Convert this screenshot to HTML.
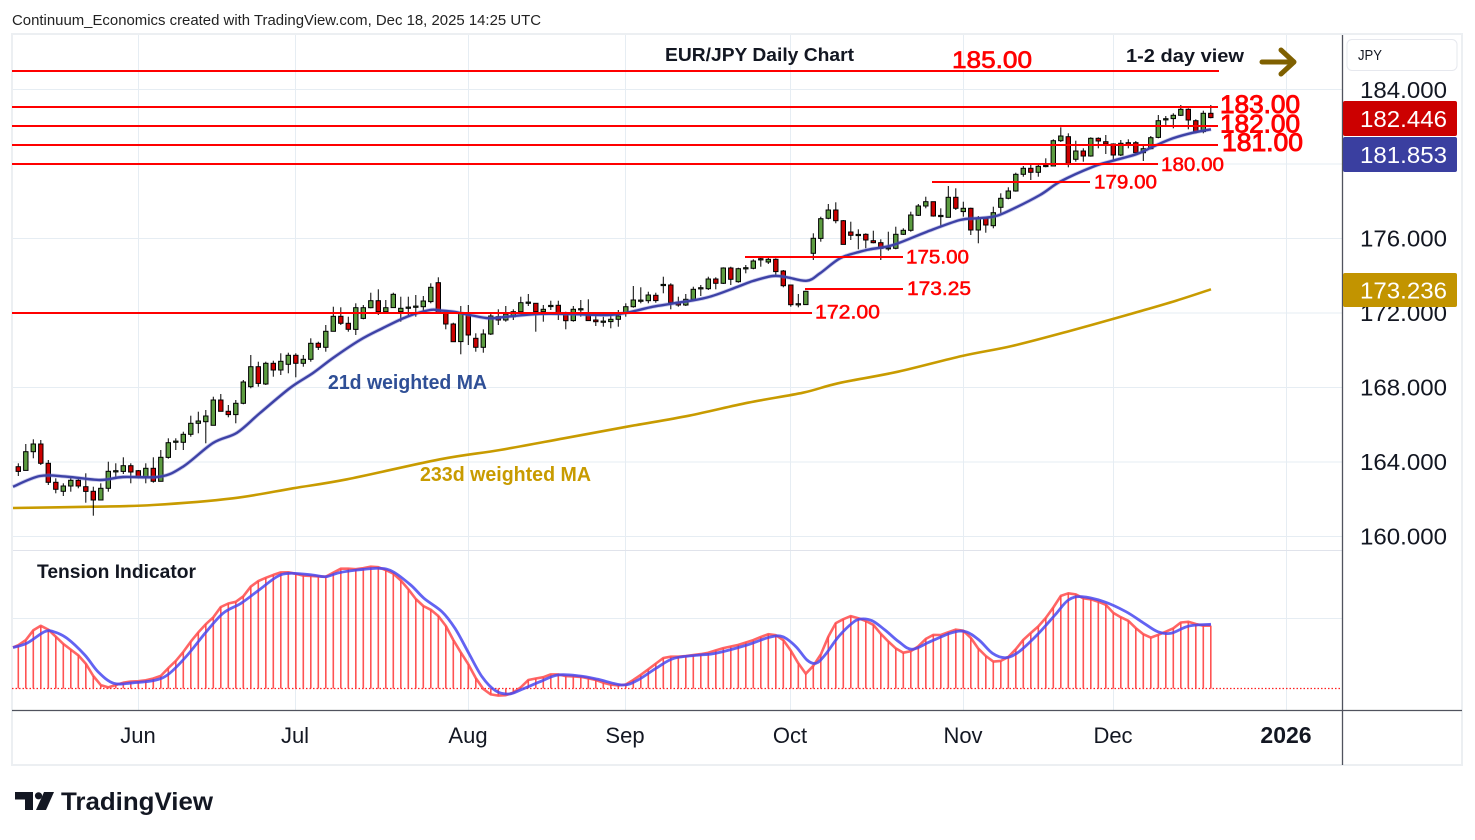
<!DOCTYPE html>
<html><head><meta charset="utf-8">
<style>
html,body{margin:0;padding:0;background:#fff;width:1475px;height:840px;overflow:hidden}
svg{display:block}
text{font-family:"Liberation Sans","DejaVu Sans",sans-serif}
</style></head><body>
<svg id="s" width="1475" height="840" viewBox="0 0 1475 840" xmlns="http://www.w3.org/2000/svg">
<rect x="0" y="0" width="1475" height="840" fill="#fff"/>
<!-- header -->
<text x="12" y="25" font-size="15" fill="#222" textLength="529" lengthAdjust="spacingAndGlyphs">Continuum_Economics created with TradingView.com, Dec 18, 2025 14:25 UTC</text>
<!-- grid -->
<g stroke="#e6edf3" stroke-width="1">
 <line x1="12" y1="89.5" x2="1342" y2="89.5"/>
 <line x1="12" y1="164" x2="1342" y2="164"/>
 <line x1="12" y1="238.5" x2="1342" y2="238.5"/>
 <line x1="12" y1="313" x2="1342" y2="313"/>
 <line x1="12" y1="387.5" x2="1342" y2="387.5"/>
 <line x1="12" y1="462" x2="1342" y2="462"/>
 <line x1="12" y1="536.5" x2="1342" y2="536.5"/>
 <line x1="12" y1="618.5" x2="1342" y2="618.5"/>
 <line x1="138.5" y1="35" x2="138.5" y2="710"/>
 <line x1="295.5" y1="35" x2="295.5" y2="710"/>
 <line x1="468.5" y1="35" x2="468.5" y2="710"/>
 <line x1="625.5" y1="35" x2="625.5" y2="710"/>
 <line x1="790.5" y1="35" x2="790.5" y2="710"/>
 <line x1="963.5" y1="35" x2="963.5" y2="710"/>
 <line x1="1113.5" y1="35" x2="1113.5" y2="710"/>
 <line x1="1286.5" y1="35" x2="1286.5" y2="710"/>
</g>
<line x1="12" y1="550.5" x2="1342" y2="550.5" stroke="#e0e3eb" stroke-width="1"/>
<!-- frame -->
<rect x="12" y="34" width="1450" height="731" fill="none" stroke="#eceff2" stroke-width="2"/>
<g id="ma233"></g>
<g id="ind"></g>
<g id="candles"></g>
<g id="ma21"></g>
<!-- level lines -->
<g stroke="#ff0000" stroke-width="2">
 <line x1="12" y1="71" x2="1219" y2="71"/>
 <line x1="12" y1="107" x2="1218" y2="107"/>
 <line x1="12" y1="126" x2="1218" y2="126"/>
 <line x1="12" y1="145" x2="1218" y2="145"/>
 <line x1="12" y1="164" x2="1158" y2="164"/>
 <line x1="932" y1="182" x2="1090" y2="182"/>
 <line x1="745" y1="257" x2="903" y2="257"/>
 <line x1="805" y1="289" x2="903" y2="289"/>
 <line x1="12" y1="313" x2="812" y2="313"/>
</g>
<g fill="#ff0000" stroke="#ff0000">
 <text x="952" y="68" font-size="24" stroke-width="0.7" textLength="80" lengthAdjust="spacingAndGlyphs">185.00</text>
 <text x="1220" y="113" font-size="25" stroke-width="0.9" textLength="80" lengthAdjust="spacingAndGlyphs">183.00</text>
 <text x="1220" y="132.5" font-size="25" stroke-width="0.9" textLength="80" lengthAdjust="spacingAndGlyphs">182.00</text>
 <text x="1222" y="151" font-size="25" stroke-width="0.9" textLength="81" lengthAdjust="spacingAndGlyphs">181.00</text>
 <text x="1161" y="171" font-size="19" stroke-width="0.5" textLength="63" lengthAdjust="spacingAndGlyphs">180.00</text>
 <text x="1094" y="188.5" font-size="19" stroke-width="0.5" textLength="63" lengthAdjust="spacingAndGlyphs">179.00</text>
 <text x="906" y="263.5" font-size="19" stroke-width="0.5" textLength="63" lengthAdjust="spacingAndGlyphs">175.00</text>
 <text x="907" y="295" font-size="19" stroke-width="0.5" textLength="64" lengthAdjust="spacingAndGlyphs">173.25</text>
 <text x="815" y="318.5" font-size="19" stroke-width="0.5" textLength="65" lengthAdjust="spacingAndGlyphs">172.00</text>
</g>
<text x="665" y="61" font-size="18" font-weight="bold" fill="#131722" textLength="189" lengthAdjust="spacingAndGlyphs">EUR/JPY Daily Chart</text>
<text x="1126" y="62" font-size="18" font-weight="bold" fill="#131722" textLength="118" lengthAdjust="spacingAndGlyphs">1-2 day view</text>
<g stroke="#7f6000" stroke-width="5" stroke-linecap="round" stroke-linejoin="round" fill="none">
 <line x1="1262" y1="62" x2="1292" y2="62"/>
 <polyline points="1281,50 1294,62 1281,74"/>
</g>
<text x="328" y="389" font-size="20" font-weight="bold" fill="#2f4f96" textLength="159" lengthAdjust="spacingAndGlyphs">21d weighted MA</text>
<text x="420" y="481" font-size="20" font-weight="bold" fill="#c89b00" textLength="171" lengthAdjust="spacingAndGlyphs">233d weighted MA</text>
<text x="37" y="578" font-size="19" font-weight="bold" fill="#131722" textLength="159" lengthAdjust="spacingAndGlyphs">Tension Indicator</text>
<!-- axes -->
<line x1="12" y1="710.5" x2="1462" y2="710.5" stroke="#50535e" stroke-width="1.3"/>
<line x1="1342.5" y1="35" x2="1342.5" y2="765" stroke="#50535e" stroke-width="1.3"/>
<rect x="1347" y="39.5" width="110" height="31" rx="5" fill="#fff" stroke="#e6e8ee" stroke-width="1"/>
<text x="1358" y="60" font-size="15" fill="#131722" textLength="24" lengthAdjust="spacingAndGlyphs">JPY</text>
<g fill="#131722" font-size="23">
 <text x="1360" y="98" textLength="87" lengthAdjust="spacingAndGlyphs">184.000</text>
 <text x="1360" y="246.5" textLength="87" lengthAdjust="spacingAndGlyphs">176.000</text>
 <text x="1360" y="321" textLength="87" lengthAdjust="spacingAndGlyphs">172.000</text>
 <text x="1360" y="395.5" textLength="87" lengthAdjust="spacingAndGlyphs">168.000</text>
 <text x="1360" y="470" textLength="87" lengthAdjust="spacingAndGlyphs">164.000</text>
 <text x="1360" y="544.5" textLength="87" lengthAdjust="spacingAndGlyphs">160.000</text>
</g>
<rect x="1343" y="101" width="114" height="35" rx="2" fill="#cc0000"/>
<rect x="1343" y="137" width="114" height="35" rx="2" fill="#3a3fa0"/>
<rect x="1343" y="273" width="114" height="34" rx="2" fill="#c29400"/>
<g fill="#fff" font-size="23">
 <text x="1360" y="127" textLength="87" lengthAdjust="spacingAndGlyphs">182.446</text>
 <text x="1360" y="163" textLength="87" lengthAdjust="spacingAndGlyphs">181.853</text>
 <text x="1360" y="298.5" textLength="87" lengthAdjust="spacingAndGlyphs">173.236</text>
</g>
<g fill="#131722" font-size="22" text-anchor="middle">
 <text x="138" y="743">Jun</text>
 <text x="295" y="743">Jul</text>
 <text x="468" y="743">Aug</text>
 <text x="625" y="743">Sep</text>
 <text x="790" y="743">Oct</text>
 <text x="963" y="743">Nov</text>
 <text x="1113" y="743">Dec</text>
 <text x="1286" y="743" font-weight="bold" font-size="23">2026</text>
</g>
<!-- TradingView logo -->
<g fill="#131722">
 <path d="M15 792 H33 V810 H25 V799.5 H15 Z"/>
 <circle cx="38.5" cy="795.8" r="3.6"/>
 <path d="M44 792 H54 L46 810 H36 Z"/>
 <text x="61" y="810" font-size="25" font-weight="bold" textLength="152" lengthAdjust="spacingAndGlyphs">TradingView</text>
</g>
</svg>
<script>
(function(){
const NS="http://www.w3.org/2000/svg";
function el(tag,attrs,parent){const e=document.createElementNS(NS,tag);for(const k in attrs)e.setAttribute(k,attrs[k]);parent.appendChild(e);return e;}
function smooth(pts){let d="M"+pts[0][0]+" "+pts[0][1];for(let i=0;i<pts.length-1;i++){const p0=pts[i-1]||pts[i],p1=pts[i],p2=pts[i+1],p3=pts[i+2]||p2;const c1x=p1[0]+(p2[0]-p0[0])/6,c1y=p1[1]+(p2[1]-p0[1])/6,c2x=p2[0]-(p3[0]-p1[0])/6,c2y=p2[1]-(p3[1]-p1[1])/6;d+=" C"+c1x.toFixed(1)+" "+c1y.toFixed(1)+" "+c2x.toFixed(1)+" "+c2y.toFixed(1)+" "+p2[0]+" "+p2[1];}return d;}
function interp(pts,x){if(x<=pts[0][0])return pts[0][1];for(let i=0;i<pts.length-1;i++){if(x>=pts[i][0]&&x<=pts[i+1][0]){const t=(x-pts[i][0])/(pts[i+1][0]-pts[i][0]);return pts[i][1]+t*(pts[i+1][1]-pts[i][1]);}}return pts[pts.length-1][1];}

// MA233
const M233=[[13,508],[93,506.7],[153,505],[233,498.3],[293,488.3],[347,479.3],[440,459.3],[500,450],[564,438.3],[627,426.7],[689,415.7],[748,402.7],[803,392.7],[838,383.3],[898,371.7],[962,356],[1012,346],[1067,331.7],[1127,315],[1176,300.7],[1211,289.3]];
el("path",{d:smooth(M233),fill:"none",stroke:"#c89b00","stroke-width":"2.6","stroke-linejoin":"round"},document.getElementById("ma233"));

// candles
const A=["r,590,604,580,618","g,545,601,522,601","g,522,545,508,565","r,522,580,510,585","r,580,637,570,645","r,637,658,625,670","g,648,664,640,678","g,631,648,620,665","r,631,648,625,655","r,650,664,610,698","r,664,690,650,737","g,655,690,640,690","g,604,655,575,665","g,603,605,580,625","g,587,604,562,612","r,587,606,580,640","r,602,620,600,625","g,595,620,580,640","r,595,634,562,638","g,562,634,540,634","g,518,562,505,566","g,514,516,505,540","g,493,517,485,540","g,460,493,437,500","g,453,460,425,490","g,438,455,420,520","g,390,466,380,466","r,390,424,372,424","r,424,434,405,442","g,400,434,390,460","g,336,400,330,403","g,290,350,255,355","r,290,340,275,350","g,280,342,275,345","r,280,300,272,320","g,274,300,250,315","g,256,283,248,310","r,256,280,250,322","g,268,280,255,290","g,220,268,205,275","r,220,232,215,240","g,184,232,165,245","g,139,184,110,184","r,139,160,112,165","r,160,178,140,185","g,113,178,100,195","g,113,145,105,148","g,92,113,68,115","r,92,125,58,135","g,113,125,90,125","g,73,113,68,113","g,115,125,80,155","g,112,114,80,140","g,109,111,75,140"];
const B=["g,393,410,378,425","g,352,395,340,400","r,338,430,322,430","r,430,462,420,478","r,462,515,458,515","g,430,515,408,553","r,430,495,405,525","r,505,532,490,545","g,492,532,478,548","g,438,492,430,495","r,440,450,418,465","g,432,450,408,455","g,425,440,418,450","g,398,425,380,428","g,397,399,372,408","r,400,425,400,485","g,418,425,405,455","g,407,409,392,420","r,406,430,392,450","r,428,452,425,478","g,418,452,408,455","g,417,419,390,440","r,430,452,388,452","r,450,455,438,468","g,454,456,440,470","g,448,455,438,475","g,438,448,420,470","g,410,430,400,440","g,390,410,348,413","g,391,393,352,400","g,375,392,365,400","r,376,392,368,398","g,344,346,320,370","r,345,398,340,418","r,397,405,380,410","g,388,405,372,408","g,358,388,350,390","g,354,356,345,378","g,327,356,320,360","r,327,340,322,358","g,294,340,292,342","r,294,328,290,345","g,296,335,293,338","g,294,296,285,310","g,273,295,268,298","g,267,269,262,290","g,268,276,264,282","r,268,305,265,318","r,303,347,300,352","r,345,404,345,410","g,402,404,372,412","g,364,404,362,404","g,205,250,190,270","g,146,205,140,215","g,120,145,102,148","r,120,152,97,160","r,152,223,150,223","r,186,196,155,210","g,194,196,178,238","r,193,210,190,235"];
const C=["r,482,488,452,490","r,488,505,478,540","g,504,506,455,512","g,463,505,440,508","g,451,463,445,465","g,405,451,395,455","g,378,406,372,408","g,365,378,350,385","r,365,408,365,410","g,407,409,385,438","g,352,412,318,412","r,352,385,325,390","g,385,395,365,410","r,385,450,383,465","g,415,450,408,490","r,415,435,410,458","g,398,437,380,445","g,355,382,340,400","g,333,355,322,358","g,283,333,278,335","g,265,283,258,290","r,265,277,255,300","g,259,277,255,290","g,257,259,235,262","g,182,258,178,258","g,168,182,142,186","r,170,250,160,262","g,213,238,182,245","r,213,228,205,245","g,175,228,172,230","r,175,183,172,205","r,185,192,165,222","r,192,225,190,240","g,190,225,180,228","r,188,193,178,205","r,188,218,183,220","g,206,218,198,243","g,173,206,168,208","g,122,172,105,175","g,117,119,108,140","g,106,116,100,145","g,88,106,75,108","r,88,120,85,148","r,122,155,118,160","g,100,155,92,160","r,100,113,75,115"];
const cg=document.getElementById("candles");
let idx=0;
function drawZone(arr,off){arr.forEach(s=>{const p=s.split(",");const c=p[0];const bt=off+(+p[1])/3,bb=off+(+p[2])/3,wt=off+(+p[3])/3,wb=off+(+p[4])/3;const x=18.3+7.5*idx;
 el("line",{x1:x.toFixed(1),y1:wt.toFixed(1),x2:x.toFixed(1),y2:wb.toFixed(1),stroke:"#000","stroke-width":"1"},cg);
 let h=bb-bt;let y=bt;if(h<1.2){y=(bt+bb)/2-0.6;h=1.2;}
 el("rect",{x:(x-2.2).toFixed(1),y:y.toFixed(1),width:"4.4",height:h.toFixed(1),fill:c==="g"?"#5c9c40":"#cc0000",stroke:"#000","stroke-width":"1"},cg);
 idx++;});}
drawZone(A,270);drawZone(B,170);drawZone(C,80);

// MA21
const M21=[[13,486.7],[40,476],[67,476.7],[100,480],[123,477],[160,476.7],[183,466.7],[213,443],[237,432.7],[260,413],[290,388],[313,373],[333,358],[360,340],[383,328],[407,316.7],[430,310],[440,310.5],[453,311.7],[470,315],[489,318.3],[507,316.7],[537,314],[570,314],[607,315],[627,312.7],[653,306.7],[673,303.5],[707,297.5],[737,287],[753,281],[773,276],[787,277.3],[807,280.7],[820,273.3],[840,258.3],[860,251.7],[870,249.3],[893,245],[927,231.7],[960,220],[977,218.3],[993,216.7],[1007,211.7],[1040,195],[1060,181.7],[1093,166.7],[1113,160.7],[1137,154],[1153,146.7],[1173,138.3],[1193,132.7],[1211,129.3]];
const mg=document.getElementById("ma21");
el("path",{d:smooth(M21),fill:"none",stroke:"#6a6acc","stroke-width":"4","stroke-opacity":"0.35","stroke-linejoin":"round"},mg);
el("path",{d:smooth(M21),fill:"none",stroke:"#3d42a6","stroke-width":"2.4","stroke-linejoin":"round"},mg);

// Tension indicator
const R=[[13,647.5],[15.6,646.7],[24.6,641.7],[33.5,630],[41,625.7],[49,630],[62.5,643.3],[78,655],[87,665],[93.7,676.7],[100.4,685],[109.4,687.7],[118.3,684],[127,681.7],[143,681],[154,678.3],[160.7,676],[169.6,666.7],[178.6,658.3],[192,640],[203,626.7],[214,616.7],[221,606.7],[230,602.7],[236.6,601.7],[243,596.7],[252,585],[259,580.7],[270,576],[281,572.3],[290,572.3],[303.6,575.7],[326,576.7],[341.5,568.3],[357,569.3],[370.5,566.7],[379.5,567.3],[393,573.3],[404,583.3],[415,598.3],[424,606.7],[435,611.7],[446.4,626.7],[455,643.3],[468.8,665],[477.7,681.7],[486.6,693.3],[495.5,695.7],[509,695],[518,690],[529,679.3],[542,677.7],[553.6,673.3],[564.7,676],[580,676.7],[593.8,679.3],[605,683.3],[616,685.7],[627,684.3],[643,673.3],[654,665],[665,656.7],[680,656.7],[706.8,653.3],[722.4,648.3],[738,645],[753.7,640],[767,634.3],[773.8,634],[782.7,639.3],[791.6,651.7],[798.3,663.3],[806,674],[814,665],[820.6,655],[828,637.3],[835.4,623.3],[843,619.3],[851,616],[858.6,618.3],[872,623.3],[881,634],[894,647.3],[903,652.7],[910,651.7],[918.8,646],[926.4,638.3],[934.5,634.3],[941,635],[947.9,632.3],[956.8,629.3],[963.5,630.7],[970,636.7],[978,648.3],[985.8,656],[993.4,661.7],[1000.5,661],[1008,657.3],[1015.7,649.3],[1023.7,639.3],[1030.4,633.3],[1038,626.7],[1046,617.7],[1052.8,608.3],[1060.4,596],[1068.4,593.3],[1075,594],[1083,598.3],[1090.7,599.3],[1098.3,601.7],[1106.3,605],[1113,612.7],[1121,617.3],[1128.7,621],[1136,628.3],[1144.3,635],[1151,637.7],[1157.7,635],[1165.7,631.7],[1173.3,628.3],[1181,622.3],[1189,621.7],[1195.6,624],[1203,625.7],[1211,625.7]];
const BL=[[13,647.5],[26.8,643.3],[44.6,631.7],[53.6,631.7],[67,638.3],[84.8,655],[98,671.7],[113.8,683.3],[134,682.7],[156,680],[169.6,673.3],[187.5,655],[205,633.3],[223,613.3],[241,603.3],[259,590],[277,576.7],[290,573.3],[312.5,575],[326,576.7],[339,572.7],[357,570],[379.5,568.3],[393,571.7],[410.7,585],[424,598.3],[442,611.7],[455,628.3],[468.8,653.3],[482,676.7],[495.5,690.7],[509,694],[522,689.3],[540,681.7],[558,675],[580,676],[598,679.3],[622.8,685],[638,680],[656,668.3],[674,658.3],[700,655],[715.7,653.3],[747,645],[769.3,637.3],[782.7,636.7],[796,646.7],[807,660],[816,663.3],[825,655],[838.5,636.7],[852,623.3],[860.8,619],[872,620.7],[885,630],[898.8,641.7],[912,649.3],[930,641.7],[952,632.7],[965.7,631.7],[979,640],[992.5,653.3],[1006,657.7],[1019,651.7],[1037,635],[1055,615],[1068.4,600],[1081.8,596.7],[1104,601.7],[1126,611.7],[1144,623.3],[1157.7,631.7],[1171,633.3],[1189,626],[1211,624.3]];
const ig=document.getElementById("ind");
el("line",{x1:"12",y1:"688.5",x2:"1342",y2:"688.5",stroke:"#ff2020","stroke-width":"1.2","stroke-dasharray":"1.5,2"},ig);
const tops=[];
for(let i=0;i<160;i++){const x=18.3+7.5*i;const y=interp(R,x);tops.push([+x.toFixed(1),+y.toFixed(1)]);
 el("line",{x1:x.toFixed(1),y1:"688.5",x2:x.toFixed(1),y2:y.toFixed(1),stroke:"#ff4040","stroke-width":"1.6","stroke-opacity":"0.9"},ig);}
const rp=[[13,647.5]].concat(tops);
el("polyline",{points:rp.map(p=>p.join(",")).join(" "),fill:"none",stroke:"#ff4a4a","stroke-width":"2.6","stroke-opacity":"0.85","stroke-linejoin":"round"},ig);
el("path",{d:smooth(BL),fill:"none",stroke:"#4848f0","stroke-width":"2.8","stroke-opacity":"0.85","stroke-linejoin":"round"},ig);
})();
</script>
</body></html>
